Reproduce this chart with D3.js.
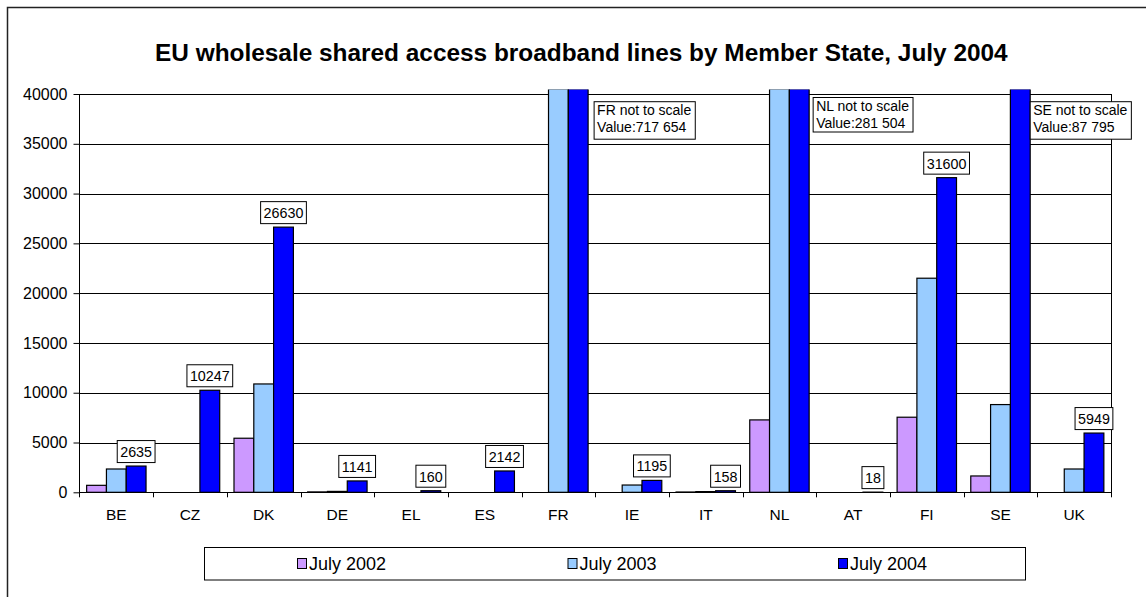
<!DOCTYPE html>
<html>
<head>
<meta charset="utf-8">
<script src="https://cdn.jsdelivr.net/npm/d3@7"></script>
<style>
  html, body { margin: 0; padding: 0; background: #fff; }
  svg { display: block; font-family: "Liberation Sans", Arial, sans-serif; }
</style>
</head>
<body>
<svg id="chart" width="1146" height="597"></svg>
<script>
// ---- data ----
const categories = ["BE","CZ","DK","DE","EL","ES","FR","IE","IT","NL","AT","FI","SE","UK"];
const seriesNames = ["July 2002","July 2003","July 2004"];
const v2002 = [700, 0, 5430, 40, 0, 0, 0, 0, 30, 7270, 0, 7540, 1640, 0];
const v2003 = [2340, 0, 10880, 90, 0, 0, 250000, 730, 70, 120000, 0, 21500, 8810, 2340];
const v2004 = [2635, 10247, 26630, 1141, 160, 2142, 717654, 1195, 158, 281504, 18, 31600, 87795, 5949];
const seriesColors = ["#CC99FF", "#99CCFF", "#0000FF"];
const yTicks = [0, 5000, 10000, 15000, 20000, 25000, 30000, 35000, 40000];
const titleText = "EU wholesale shared access broadband lines by Member State, July 2004";
const notToScaleCats = ["FR", "NL", "SE"];
const notToScaleLines = [
  ["FR not to scale", "Value:717 654"],
  ["NL not to scale", "Value:281 504"],
  ["SE not to scale", "Value:87 795"]
];

// ---- layout ----
const svg = d3.select("#chart");
const plotL = 79.5, plotR = 1111, plotT = 94, plotB = 492.3;

const x = d3.scaleBand().domain(categories).range([plotL, plotR]).paddingInner(0).paddingOuter(0);
const groupW = 59.4;
const x1 = d3.scaleBand().domain(seriesNames).range([0, groupW]);
const gOff = (x.bandwidth() - groupW) / 2;
const y = d3.scaleLinear().domain([0, 40000]).range([plotB, plotT]);
const clipVal = y.invert(89);

const seriesVals = [v2002, v2003, v2004];

// outer chart border
svg.append("rect").attr("x", 7.5).attr("y", 7.5).attr("width", 1400).attr("height", 800)
  .attr("fill", "none").attr("stroke", "#222").attr("stroke-width", 1.5);

// title
svg.append("text").attr("x", 155).attr("y", 61)
  .attr("font-size", 24.4).attr("font-weight", "bold").attr("fill", "#000")
  .text(titleText);

// gridlines
svg.append("g").selectAll("line").data(yTicks.filter(t => t > 0)).join("line")
  .attr("x1", plotL).attr("x2", plotR)
  .attr("y1", d => Math.round(y(d)) + 0.5).attr("y2", d => Math.round(y(d)) + 0.5)
  .attr("stroke", "#000").attr("stroke-width", 1);

// right border of plot area
svg.append("line").attr("x1", plotR + 0.5).attr("x2", plotR + 0.5)
  .attr("y1", y(40000)).attr("y2", plotB + 5).attr("stroke", "#000");

// clip
svg.append("defs").append("clipPath").attr("id", "plotclip")
  .append("rect").attr("x", 0).attr("y", 89.5).attr("width", 1146).attr("height", 500);

// bars
const barData = [];
categories.forEach((c, i) => {
  seriesNames.forEach((s, j) => {
    barData.push({ cat: c, ser: s, j: j, val: seriesVals[j][i] });
  });
});
svg.append("g").attr("clip-path", "url(#plotclip)")
  .selectAll("rect").data(barData.filter(d => d.val > 0)).join("rect")
  .attr("x", d => x(d.cat) + gOff + x1(d.ser))
  .attr("width", x1.bandwidth())
  .attr("y", d => y(Math.min(d.val, clipVal)))
  .attr("height", d => plotB - y(Math.min(d.val, clipVal)))
  .attr("fill", d => seriesColors[d.j])
  .attr("stroke", "#000").attr("stroke-width", 1.2);

// y axis
const yAxis = svg.append("g").attr("transform", `translate(${plotL},0)`)
  .call(d3.axisLeft(y).tickValues(yTicks).tickSize(6).tickPadding(6).tickFormat(d3.format("d")));
yAxis.select(".domain").attr("stroke", "#000").attr("d", `M0,${plotB + 5}V${plotT}`);
yAxis.selectAll(".tick line").attr("stroke", "#000");
yAxis.selectAll(".tick text").attr("font-size", 16).attr("fill", "#000")
  .attr("font-family", "Liberation Sans, Arial, sans-serif");

// x axis baseline
svg.append("line").attr("x1", plotL).attr("x2", plotR + 0.5)
  .attr("y1", Math.round(plotB) + 0.5).attr("y2", Math.round(plotB) + 0.5).attr("stroke", "#000");
// boundary ticks
svg.append("g").selectAll("line").data(categories.slice(1)).join("line")
  .attr("x1", d => Math.round(x(d)) + 0.5).attr("x2", d => Math.round(x(d)) + 0.5)
  .attr("y1", plotB).attr("y2", plotB + 5).attr("stroke", "#000");
// category labels
svg.append("g").selectAll("text").data(categories).join("text")
  .attr("x", d => x(d) + x.bandwidth() / 2).attr("y", 519.5)
  .attr("text-anchor", "middle").attr("font-size", 15.5).attr("fill", "#000")
  .text(d => d);

// data labels for July 2004
const lblG = svg.append("g");
categories.forEach((c, i) => {
  if (notToScaleCats.includes(c)) return;
  const val = v2004[i];
  const cx = x(c) + gOff + x1("July 2004") + x1.bandwidth() / 2;
  const top = y(val);
  const g = lblG.append("g");
  const t = g.append("text").attr("x", cx).attr("y", top - 9)
    .attr("text-anchor", "middle").attr("font-size", 14.3).attr("fill", "#000").text(String(val));
  const w = t.node().getComputedTextLength();
  g.insert("rect", "text")
    .attr("x", cx - w / 2 - 3).attr("y", top - 25.5)
    .attr("width", w + 6).attr("height", 22)
    .attr("fill", "#fff").attr("stroke", "#000").attr("stroke-width", 1);
});

// not-to-scale annotations
const annOffsets = [6, 4, 0];
const annTops = [101.7, 97.5, 101.7];
notToScaleCats.forEach((c, k) => {
  const bx = x(c) + gOff + x1("July 2004") + x1.bandwidth() + annOffsets[k];
  const by = annTops[k];
  const g = svg.append("g");
  const texts = notToScaleLines[k].map((ln, li) =>
    g.append("text").attr("x", bx + 3).attr("y", by + 13.5 + li * 16.5)
      .attr("font-size", 14).attr("fill", "#000").text(ln));
  const w = d3.max(texts, t => t.node().getComputedTextLength());
  g.insert("rect", "text").attr("x", bx).attr("y", by)
    .attr("width", w + 7).attr("height", k === 1 ? 34.5 : 37.5)
    .attr("fill", "#fff").attr("stroke", "#000").attr("stroke-width", 1);
});

// legend
const legBox = { x: 204.5, y: 547.5, w: 821, h: 32.5 };
svg.append("rect").attr("x", legBox.x).attr("y", legBox.y).attr("width", legBox.w).attr("height", legBox.h)
  .attr("fill", "#fff").attr("stroke", "#000");
const legX = d3.scalePoint().domain(seriesNames).range([297, 838]);
const lg = svg.append("g").selectAll("g").data(seriesNames).join("g")
  .attr("transform", d => `translate(${legX(d)},0)`);
lg.append("rect").attr("x", 0.5).attr("y", 558.5).attr("width", 9).attr("height", 10)
  .attr("fill", (d, i) => seriesColors[i]).attr("stroke", "#000");
lg.append("text").attr("x", 12).attr("y", 569.5).attr("font-size", 18).attr("fill", "#000")
  .text(d => d);
</script>
</body>
</html>
